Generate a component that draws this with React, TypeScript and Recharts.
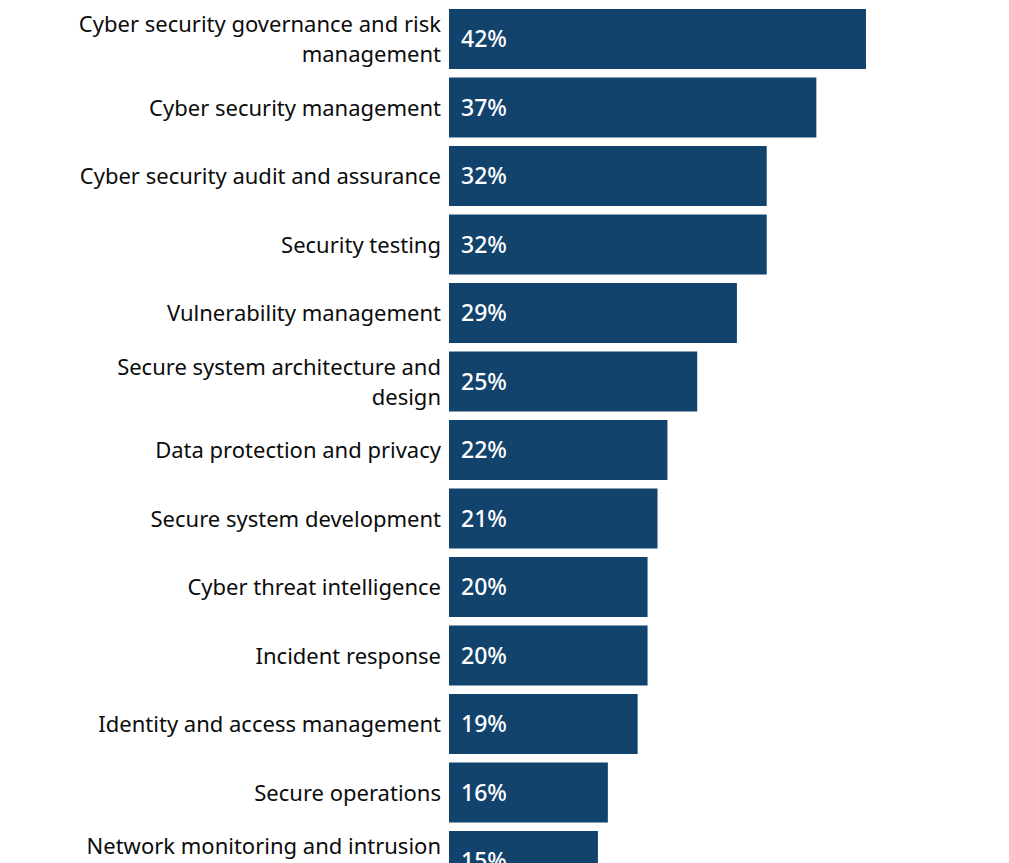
import React from "react";
import { BarChart, Bar, XAxis, YAxis, LabelList } from "recharts";

const categories: string[] = [
  "Cyber security governance and risk management",
  "Cyber security management",
  "Cyber security audit and assurance",
  "Security testing",
  "Vulnerability management",
  "Secure system architecture and design",
  "Data protection and privacy",
  "Secure system development",
  "Cyber threat intelligence",
  "Incident response",
  "Identity and access management",
  "Secure operations",
  "Network monitoring and intrusion detection",
];

const shares: number[] = [42, 37, 32, 32, 29, 25, 22, 21, 20, 20, 19, 16, 15];

const data = categories.map((name, i) => ({ name, value: shares[i] }));

const FONT = "'Noto Sans', sans-serif";
const MAX_CHARS = 35;

function wrap(text: string): string[] {
  const words = text.split(" ");
  const lines: string[] = [];
  let cur = "";
  for (const w of words) {
    const next = cur ? cur + " " + w : w;
    if (next.length > MAX_CHARS && cur) {
      lines.push(cur);
      cur = w;
    } else {
      cur = next;
    }
  }
  if (cur) lines.push(cur);
  return lines;
}

const CategoryTick = (props: any) => {
  const { x, y, payload } = props;
  const lines = wrap(String(payload.value));
  const lh = 30;
  const start = y - ((lines.length - 1) * lh) / 2;
  return (
    <g>
      {lines.map((l, i) => (
        <text
          key={i}
          x={x}
          y={start + i * lh}
          dy="0.36em"
          textAnchor="end"
          fill="#0b0c0c"
          fontSize={22}
          fontFamily={FONT}
        >
          {l}
        </text>
      ))}
    </g>
  );
};

export default function App() {
  return (
    <div
      style={{
        position: "absolute",
        left: 0,
        top: 0,
        width: 1009,
        height: 863,
        overflow: "hidden",
        background: "#ffffff",
      }}
    >
      <BarChart
        width={1009}
        height={896}
        data={data}
        layout="vertical"
        margin={{ top: 5, right: 143, bottom: 0.5, left: 0 }}
      >
        <XAxis type="number" domain={[0, 42]} hide />
        <YAxis
          type="category"
          dataKey="name"
          width={449}
          axisLine={false}
          tickLine={false}
          tickSize={0}
          tickMargin={8}
          interval={0}
          tick={<CategoryTick />}
        />
        <Bar dataKey="value" fill="#12436D" barSize={60} isAnimationActive={false}>
          <LabelList
            dataKey="value"
            position="insideLeft"
            offset={12}
            formatter={(v: any) => `${v}%`}
            fill="#ffffff"
            fontSize={23}
            fontWeight={500}
            fontFamily={FONT}
          />
        </Bar>
      </BarChart>
    </div>
  );
}
